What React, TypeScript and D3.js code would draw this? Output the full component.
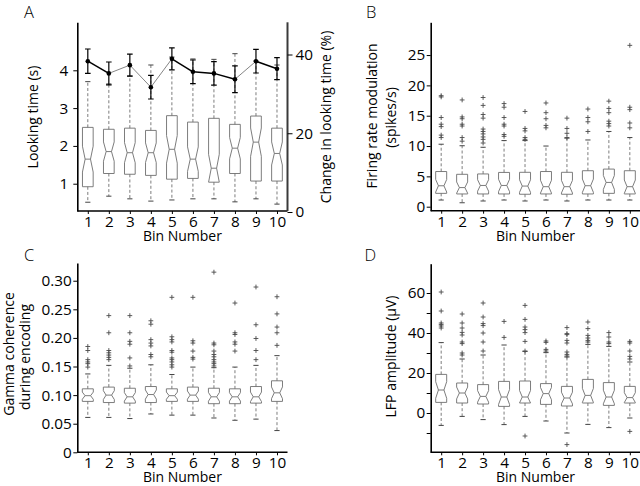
import React, { useEffect, useRef } from "react";
import * as d3 from "d3";

const FONT = "'Open Sans', 'Noto Sans', sans-serif";

const binLabels = ["1", "2", "3", "4", "5", "6", "7", "8", "9", "10"];

// ---- Panel A: looking time (s) boxes + change in looking time (%) line
const lookQ1 = [0.92, 1.27, 1.25, 1.22, 1.12, 1.14, 1.04, 1.27, 1.07, 1.07];
const lookMed = [1.65, 1.85, 1.82, 1.82, 1.91, 1.65, 1.41, 1.94, 2.1, 1.8];
const lookQ3 = [2.49, 2.44, 2.47, 2.41, 2.8, 2.63, 2.73, 2.57, 2.79, 2.47];
const lookLo = [0.51, 0.67, 0.6, 0.54, 0.57, 0.6, 0.6, 0.52, 0.6, 0.46];
const lookHi = [3.7, 3.64, 3.85, 4.14, 4.35, 4.3, 4.29, 4.44, 4.25, 4.14];
const lookOut: number[][] = [[], [], [], [], [], [], [], [], [], []];
const changePct = [38.3, 35.2, 37.3, 31.7, 38.9, 35.6, 35.2, 33.7, 38.3, 36.4];
const changeErr = [3.1, 2.9, 2.8, 3.0, 2.8, 3.0, 3.0, 3.4, 3.0, 2.8];
const lookTicks = [1, 2, 3, 4];
const changeTicks = [0, 20, 40];

// ---- Panel B: firing rate modulation (spikes/s)
const frQ1 = [2.2, 2.1, 2.1, 2.1, 2.05, 2.1, 2.05, 2.1, 2.2, 2.1];
const frMed = [3.45, 3.15, 3.5, 3.5, 3.4, 3.3, 3.3, 3.46, 4.0, 3.3];
const frQ3 = [5.8, 5.34, 5.4, 5.65, 5.67, 5.8, 5.67, 5.93, 6.2, 5.93];
const frLo = [1.1, 0.65, 0.94, 1.1, 0.94, 1.1, 0.94, 1.1, 1.1, 1.1];
const frHi = [10.3, 10.05, 9.8, 10.9, 10.9, 10.0, 11.3, 11.0, 12.4, 11.4];
const frOut = [
  [18.3, 18.1, 14.7, 13.6, 13.2, 11.8, 11.4],
  [17.6, 14.8, 14.5, 13.6, 13.3, 11.4, 10.8],
  [18.0, 16.7, 15.2, 14.6, 12.8, 12.4, 12.0, 11.5, 11.1, 10.5],
  [17.0, 16.4, 14.7, 13.6, 13.3, 11.9, 11.6],
  [15.7, 12.9, 12.5, 11.4, 11.1],
  [17.1, 15.5, 14.5, 13.4, 13.0],
  [14.6, 12.9, 12.1, 11.4],
  [16.1, 14.7, 14.0, 12.4],
  [17.4, 16.2, 15.5, 14.1, 13.7, 13.3],
  [26.6, 16.4, 16.0, 13.8, 13.0],
];
const frTicks = [0, 5, 10, 15, 20, 25];

// ---- Panel C: gamma coherence during encoding
const gcQ1 = [0.089, 0.087, 0.086, 0.087, 0.089, 0.089, 0.085, 0.085, 0.086, 0.089];
const gcMed = [0.099, 0.1, 0.097, 0.101, 0.099, 0.1, 0.097, 0.097, 0.097, 0.104];
const gcQ3 = [0.111, 0.114, 0.112, 0.115, 0.111, 0.114, 0.112, 0.111, 0.115, 0.125];
const gcLo = [0.061, 0.061, 0.059, 0.067, 0.065, 0.065, 0.06, 0.056, 0.058, 0.038];
const gcHi = [0.137, 0.152, 0.147, 0.153, 0.136, 0.149, 0.148, 0.149, 0.152, 0.169];
const gcOut = [
  [0.185, 0.178, 0.162, 0.158, 0.155, 0.149],
  [0.239, 0.209, 0.178, 0.174, 0.17, 0.166, 0.162],
  [0.239, 0.209, 0.194, 0.189, 0.165, 0.151],
  [0.23, 0.224, 0.197, 0.191, 0.186, 0.171, 0.167],
  [0.271, 0.202, 0.197, 0.193, 0.178, 0.175, 0.165, 0.162, 0.158, 0.153, 0.149],
  [0.271, 0.195, 0.191, 0.177, 0.166, 0.163],
  [0.315, 0.191, 0.188, 0.177, 0.171, 0.167, 0.162, 0.158, 0.155, 0.151],
  [0.261, 0.209, 0.206, 0.193, 0.189, 0.177],
  [0.289, 0.223, 0.199, 0.178, 0.162],
  [0.272, 0.242, 0.219, 0.209, 0.187],
];
const gcTicks = [0, 0.05, 0.1, 0.15, 0.2, 0.25, 0.3];

// ---- Panel D: LFP amplitude (µV)
const lfpQ1 = [5.3, 5, 4.5, 3.3, 5, 4.3, 3.5, 5, 3.8, 5];
const lfpMed = [11.5, 10, 8.3, 8, 8, 9.7, 7.5, 8.8, 8, 7.7];
const lfpQ3 = [19.3, 15, 14.2, 15.8, 16, 14.7, 13.3, 16.8, 15.2, 13.3];
const lfpLo = [-6.2, -1.7, -3.3, -5.8, -1.7, -4, -10, -5.7, -7.3, -2.5];
const lfpHi = [35.2, 27, 29, 34, 30.8, 30.2, 28, 34.3, 33.3, 25.5];
const lfpOut = [
  [60.5, 51, 45, 44.2, 43.5, 42.5],
  [49.5, 45, 42.5, 40.3, 39, 35.5, 34.7, 30, 29],
  [55, 48, 44.7, 43.7, 40, 35.5, 31],
  [45.8, 37.8],
  [53.8, 46.8, 43, 41.7, 40.2, 35.8, 31, -11.5],
  [36, 35.3, 31.8, 31],
  [42.7, 39.7, 39.2, 36.3, 35, 30.5, 29.3, 28.5, -15.8],
  [45.5, 42.2, 38.8, 37.5, 36.3, 35.5],
  [40.2, 38, 35.5, 34.7],
  [35.8, 35, 31, 28.3, 27, -9.2],
];
const lfpTicks = [0, 20, 40, 60];
const lfpMinorTicks = [-10, 10, 30, 50];

// sample sizes used for the notch width (1.57 * IQR / sqrt(n))
const nA = 52, nB = 30, nC = 30, nD = 28;

const BOX_STROKE = "#6e6e6e";

export default function App() {
  const ref = useRef<SVGSVGElement>(null);

  useEffect(() => {
    const svg = d3.select(ref.current);
    svg.selectAll("*").remove();

    const panels = [
      {
        letter: "A", lx: 24, ly: 17.5,
        x0: 77.3, x1: 287.5, yTop: 22.3, yBot: 211, domain: [0.278, 5.27],
        boxW: 10.7, n: nA, q1: lookQ1, med: lookMed, q3: lookQ3, lo: lookLo, hi: lookHi, out: lookOut,
        ticks: lookTicks, fmt: (d: number) => String(d), minor: [] as number[], pad: 5,
        titles: [{ t: "Looking time (s)", x: 37.5, y: 117 }],
      },
      {
        letter: "B", lx: 366, ly: 17.5,
        x0: 430.7, x1: 640.3, yTop: 22.3, yBot: 210.7, domain: [-0.66, 30.4],
        boxW: 11, n: nB, q1: frQ1, med: frMed, q3: frQ3, lo: frLo, hi: frHi, out: frOut,
        ticks: frTicks, fmt: (d: number) => String(d), minor: [] as number[], pad: 1.5,
        titles: [
          { t: "Firing rate modulation", x: 377, y: 116 },
          { t: "(spikes/s)", x: 396, y: 117.5 },
        ],
      },
      {
        letter: "C", lx: 24, ly: 261,
        x0: 77.3, x1: 287.5, yTop: 263, yBot: 452.3, domain: [0, 0.331],
        boxW: 11, n: nC, q1: gcQ1, med: gcMed, q3: gcQ3, lo: gcLo, hi: gcHi, out: gcOut,
        ticks: gcTicks, fmt: (d: number) => (d === 0 ? "0" : d3.format(".2f")(d)), minor: [] as number[], pad: 1.5,
        titles: [
          { t: "Gamma coherence", x: 13.5, y: 354 },
          { t: "during encoding", x: 29.5, y: 357 },
        ],
      },
      {
        letter: "D", lx: 364.5, ly: 261,
        x0: 430.7, x1: 640.3, yTop: 263.7, yBot: 452.3, domain: [-19.65, 74.65],
        boxW: 11, n: nD, q1: lfpQ1, med: lfpMed, q3: lfpQ3, lo: lfpLo, hi: lfpHi, out: lfpOut,
        ticks: lfpTicks, fmt: (d: number) => String(d), minor: lfpMinorTicks, pad: 1.5,
        titles: [{ t: "LFP amplitude (\u03bcV)", x: 396, y: 356.5 }],
      },
    ];

    panels.forEach((p) => {
      const g = svg.append("g");
      const y = d3.scaleLinear().domain(p.domain).range([p.yBot, p.yTop]);
      const x = d3.scalePoint<string>().domain(binLabels).range([p.x0, p.x1]).padding(0.5);

      // boxes
      binLabels.forEach((b, i) => {
        const cx = x(b)!;
        const hw = p.boxW / 2;
        const nw = p.boxW / 4;
        const capW = 2.6;
        const iqr = p.q3[i] - p.q1[i];
        const notch = (1.57 * iqr) / Math.sqrt(p.n);
        const nTop = Math.min(p.q3[i], p.med[i] + notch);
        const nBot = Math.max(p.q1[i], p.med[i] - notch);

        // whiskers
        g.append("line")
          .attr("x1", cx).attr("x2", cx)
          .attr("y1", y(p.q3[i])).attr("y2", y(p.hi[i]))
          .attr("stroke", BOX_STROKE).attr("stroke-width", 0.9).attr("stroke-dasharray", "3,2.2");
        g.append("line")
          .attr("x1", cx).attr("x2", cx)
          .attr("y1", y(p.q1[i])).attr("y2", y(p.lo[i]))
          .attr("stroke", BOX_STROKE).attr("stroke-width", 0.9).attr("stroke-dasharray", "3,2.2");
        [p.hi[i], p.lo[i]].forEach((v) => {
          g.append("line")
            .attr("x1", cx - capW).attr("x2", cx + capW)
            .attr("y1", y(v)).attr("y2", y(v))
            .attr("stroke", "#444").attr("stroke-width", 1);
        });

        // notched box
        const path = d3.path();
        path.moveTo(cx - hw, y(p.q3[i]));
        path.lineTo(cx + hw, y(p.q3[i]));
        path.lineTo(cx + hw, y(nTop));
        path.lineTo(cx + nw, y(p.med[i]));
        path.lineTo(cx + hw, y(nBot));
        path.lineTo(cx + hw, y(p.q1[i]));
        path.lineTo(cx - hw, y(p.q1[i]));
        path.lineTo(cx - hw, y(nBot));
        path.lineTo(cx - nw, y(p.med[i]));
        path.lineTo(cx - hw, y(nTop));
        path.closePath();
        g.append("path").attr("d", path.toString())
          .attr("fill", "none").attr("stroke", BOX_STROKE).attr("stroke-width", 0.9);
        g.append("line")
          .attr("x1", cx - nw).attr("x2", cx + nw)
          .attr("y1", y(p.med[i])).attr("y2", y(p.med[i]))
          .attr("stroke", BOX_STROKE).attr("stroke-width", 0.9);

        // outliers
        p.out[i].forEach((v) => {
          const yy = y(v);
          g.append("path")
            .attr("d", `M${cx - 2.4},${yy}h4.8M${cx},${yy - 2.4}v4.8`)
            .attr("stroke", "#4a4a4a").attr("stroke-width", 0.9).attr("fill", "none");
        });
      });

      // left axis
      const ax = g.append("g").attr("transform", `translate(${p.x0},0)`)
        .call(d3.axisLeft(y).tickValues(p.ticks).tickFormat(p.fmt as any).tickSize(4).tickSizeOuter(0).tickPadding(p.pad));
      if (p.minor.length) {
        g.append("g").attr("transform", `translate(${p.x0},0)`)
          .call(d3.axisLeft(y).tickValues(p.minor).tickFormat(() => "").tickSize(4).tickSizeOuter(0))
          .call((s) => s.select(".domain").remove());
      }
      // bottom axis
      const bx = g.append("g").attr("transform", `translate(0,${p.yBot})`)
        .call(d3.axisBottom(x).tickSize(3).tickSizeOuter(0).tickPadding(2));
      bx.select(".domain").attr("d", `M${p.x0},0H${p.x1}`);

      [ax, bx].forEach((a) => {
        a.attr("font-family", null).attr("font-size", null);
        a.select(".domain").attr("stroke", "#000").attr("stroke-width", 1.6);
        a.selectAll(".tick line").attr("stroke", "#000").attr("stroke-width", 1);
        a.selectAll(".tick text").attr("font-family", FONT).attr("font-size", 15.3).attr("fill", "#000");
      });

      // axis titles
      p.titles.forEach((tt) => {
        g.append("text")
          .attr("transform", `translate(${tt.x},${tt.y}) rotate(-90)`)
          .attr("text-anchor", "middle")
          .attr("font-family", FONT).attr("font-size", 14)
          .text(tt.t);
      });
      g.append("text")
        .attr("x", (p.x0 + p.x1) / 2).attr("y", p.yBot + 29.8)
        .attr("text-anchor", "middle")
        .attr("font-family", FONT).attr("font-size", 14)
        .text("Bin Number");
      g.append("text")
        .attr("x", p.lx).attr("y", p.ly)
        .attr("font-family", FONT).attr("font-size", 16.5).attr("font-weight", 300)
        .text(p.letter);

      // panel A extras: right axis + line with error bars
      if (p.letter === "A") {
        const yR = d3.scaleLinear().domain([0, 48]).range([212, 23]);
        const ra = g.append("g").attr("transform", `translate(${p.x1},0)`)
          .call(d3.axisRight(yR).tickValues(changeTicks).tickSize(5).tickSizeOuter(0).tickPadding(3));
        ra.attr("font-family", null).attr("font-size", null);
        ra.select(".domain").attr("d", `M0,${p.yTop}V${p.yBot}`).attr("stroke", "#3a3a3a").attr("stroke-width", 2);
        ra.selectAll(".tick line").attr("stroke", "#000");
        ra.selectAll(".tick text").attr("font-family", FONT).attr("font-size", 15.3).attr("fill", "#000");
        g.append("text")
          .attr("transform", `translate(331,117) rotate(-90)`)
          .attr("text-anchor", "middle")
          .attr("font-family", FONT).attr("font-size", 14)
          .text("Change in looking time (%)");

        const thinSegs = new Set([1, 2, 3, 7]);
        for (let i = 0; i < binLabels.length - 1; i++) {
          const thin = thinSegs.has(i);
          g.append("line")
            .attr("x1", x(binLabels[i])!).attr("y1", yR(changePct[i]))
            .attr("x2", x(binLabels[i + 1])!).attr("y2", yR(changePct[i + 1]))
            .attr("stroke", thin ? "#666" : "#000").attr("stroke-width", thin ? 0.8 : 1.5);
        }
        binLabels.forEach((b, i) => {
          const cx = x(b)!;
          const t = yR(changePct[i] + changeErr[i]);
          const bt = yR(changePct[i] - changeErr[i]);
          g.append("path")
            .attr("d", `M${cx},${t}V${bt}M${cx - 2.8},${t}h5.6M${cx - 2.8},${bt}h5.6`)
            .attr("stroke", "#000").attr("stroke-width", 1.2).attr("fill", "none");
          g.append("circle").attr("cx", cx).attr("cy", yR(changePct[i])).attr("r", 2.3).attr("fill", "#000");
        });
      }
    });
  }, []);

  return (
    <svg
      ref={ref}
      width={640}
      height={486}
      style={{ position: "absolute", left: 0, top: 0, background: "#fff" }}
    />
  );
}
